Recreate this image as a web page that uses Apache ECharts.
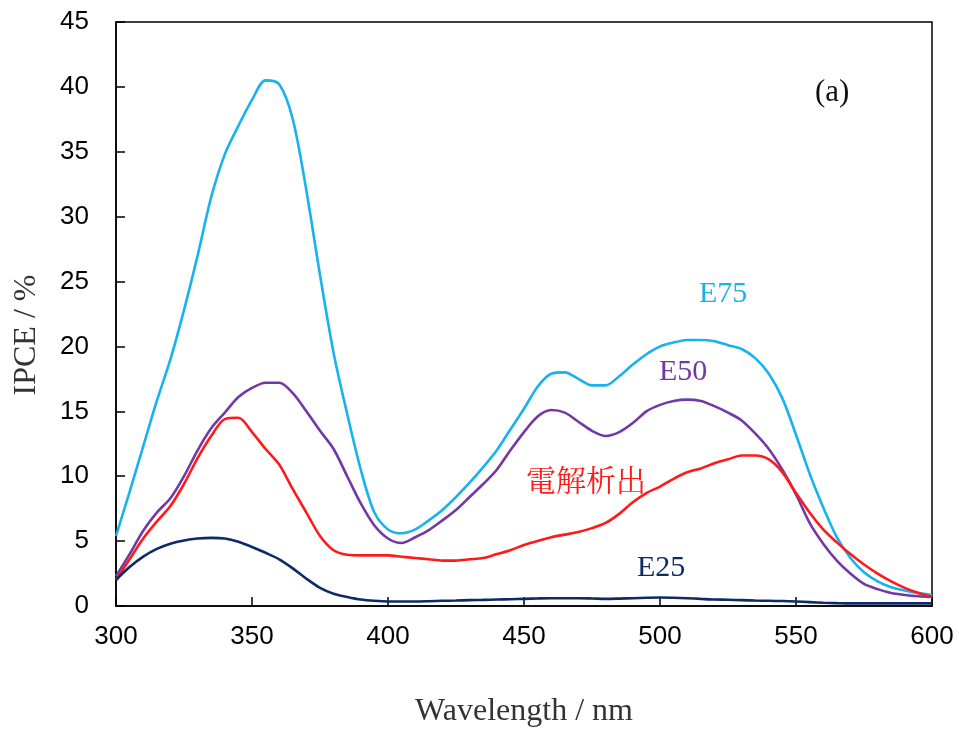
<!DOCTYPE html>
<html>
<head>
<meta charset="utf-8">
<script src="https://cdn.jsdelivr.net/npm/echarts@6/dist/echarts.min.js"></script>
<style>
  html, body { margin: 0; padding: 0; background: #fff; }
  #chart { width: 959px; height: 733px; }
</style>
</head>
<body>
<div id="chart"></div>
<script>
// IPCE spectra: wavelength (nm) against IPCE (%), sampled every 5 nm
const wavelength = [
  300, 305, 310, 315, 320, 325, 330, 335, 340, 345,
  350, 355, 360, 365, 370, 375, 380, 385, 390, 395,
  400, 405, 410, 415, 420, 425, 430, 435, 440, 445,
  450, 455, 460, 465, 470, 475, 480, 485, 490, 495,
  500, 505, 510, 515, 520, 525, 530, 535, 540, 545,
  550, 555, 560, 565, 570, 575, 580, 585, 590, 595,
  600
];

const ipceE75 = [
  5.4, 8.8, 12.3, 15.8, 19.0, 22.8, 27.0, 31.5, 34.8, 37.0,
  39.0, 40.5, 40.2, 37.5, 32.0, 25.5, 19.5, 14.8, 10.5, 7.2,
  5.9, 5.6, 5.9, 6.6, 7.4, 8.4, 9.5, 10.7, 12.0, 13.6,
  15.2, 16.9, 17.9, 18.0, 17.5, 17.0, 17.0, 17.7, 18.6, 19.4,
  20.0, 20.3, 20.5, 20.5, 20.4, 20.1, 19.8, 19.1, 17.9, 16.0,
  13.2, 10.2, 7.6, 5.3, 3.7, 2.6, 1.9, 1.45, 1.2, 1.0,
  0.85
];

const ipceE50 = [
  2.3, 4.0, 5.8, 7.2, 8.3, 10.0, 12.0, 13.7, 14.9, 16.1,
  16.8, 17.2, 17.2, 16.4, 15.0, 13.5, 12.1, 10.0, 7.9, 6.2,
  5.2, 4.85, 5.3, 5.85, 6.6, 7.4, 8.4, 9.4, 10.5, 12.0,
  13.4, 14.6, 15.1, 14.9, 14.2, 13.5, 13.1, 13.4, 14.1, 15.0,
  15.5, 15.8, 15.9, 15.8, 15.4, 14.9, 14.3, 13.3, 12.1, 10.5,
  8.6, 6.4, 4.8, 3.5, 2.5, 1.7, 1.3, 1.0, 0.85, 0.75,
  0.7
];

const ipceDeposited = [
  2.0, 3.6, 5.2, 6.5, 7.7, 9.4, 11.4, 13.1, 14.4, 14.5,
  13.4, 12.1, 10.9, 9.0, 7.2, 5.4, 4.3, 3.95, 3.9, 3.9,
  3.9, 3.8, 3.7, 3.6, 3.5, 3.5, 3.6, 3.7, 4.0, 4.3,
  4.7, 5.0, 5.3, 5.5, 5.7, 6.0, 6.4, 7.1, 8.0, 8.7,
  9.2, 9.8, 10.3, 10.6, 11.0, 11.3, 11.6, 11.6, 11.3, 10.3,
  8.7, 7.2, 5.9, 4.9, 4.0, 3.2, 2.5, 1.9, 1.4, 1.0,
  0.7
];

const ipceE25 = [
  2.0, 3.0, 3.8, 4.4, 4.8, 5.05, 5.2, 5.25, 5.2, 4.95,
  4.55, 4.1, 3.6, 2.9, 2.1, 1.4, 0.95, 0.7, 0.5, 0.4,
  0.35, 0.35, 0.35, 0.37, 0.4, 0.42, 0.45, 0.47, 0.5, 0.52,
  0.55, 0.58, 0.6, 0.6, 0.6, 0.58, 0.55, 0.57, 0.6, 0.63,
  0.65, 0.63, 0.6, 0.55, 0.5, 0.48, 0.45, 0.42, 0.4, 0.38,
  0.35, 0.3, 0.25, 0.22, 0.2, 0.2, 0.2, 0.2, 0.2, 0.2,
  0.2
];

const xTicks = [300, 350, 400, 450, 500, 550, 600];
const yTicks = [0, 5, 10, 15, 20, 25, 30, 35, 40, 45];

const pair = (xs, ys) => xs.map((x, i) => [x, ys[i]]);

const serifFont = '"Liberation Serif", "Times New Roman", serif';
const sansFont = '"Liberation Sans", Arial, sans-serif';
const cjkFont = '"Noto Serif CJK JP", "Noto Sans CJK JP", serif';

const colors = {
  e75: '#17b2ef',
  e50: '#7438a6',
  deposited: '#ff1a1a',
  e25: '#0e2a68'
};

function line(name, ys, color) {
  return {
    name: name,
    type: 'line',
    data: pair(wavelength, ys),
    smooth: 0.3,
    showSymbol: false,
    lineStyle: { color: color, width: 2.6 },
    itemStyle: { color: color },
    z: 3
  };
}

const chart = echarts.init(document.getElementById('chart'));

chart.setOption({
  animation: false,
  backgroundColor: '#ffffff',
  grid: {
    left: 116, right: 27, top: 22, bottom: 127,
    show: true, borderColor: '#000', borderWidth: 1.5,
    backgroundColor: 'transparent'
  },
  xAxis: {
    type: 'value',
    min: xTicks[0], max: xTicks[xTicks.length - 1], interval: 50,
    name: 'Wavelength / nm',
    nameLocation: 'middle',
    nameGap: 90,
    nameTextStyle: { fontFamily: serifFont, fontSize: 32, color: '#333' },
    axisLine: { show: true, lineStyle: { color: '#000', width: 1.5 } },
    axisTick: { show: true, inside: true, length: 9, lineStyle: { color: '#000', width: 1.5 } },
    axisLabel: { fontFamily: sansFont, fontSize: 26, color: '#000', margin: 18 },
    splitLine: { show: false }
  },
  yAxis: {
    type: 'value',
    min: yTicks[0], max: yTicks[yTicks.length - 1], interval: 5,
    axisLine: { show: true, lineStyle: { color: '#000', width: 1.5 } },
    axisTick: { show: true, inside: true, length: 9, lineStyle: { color: '#000', width: 1.5 } },
    axisLabel: { fontFamily: sansFont, fontSize: 26, color: '#000', margin: 27 },
    splitLine: { show: false }
  },
  series: [
    line('E75', ipceE75, colors.e75),
    line('E50', ipceE50, colors.e50),
    line('電解析出', ipceDeposited, colors.deposited),
    line('E25', ipceE25, colors.e25)
  ],
  graphic: [
    // y-axis title, rotated
    { type: 'text', x: 27, y: 335, rotation: Math.PI / 2,
      style: { text: 'IPCE / %', fontFamily: serifFont, fontSize: 32, fill: '#333', align: 'center', verticalAlign: 'middle' } },
    // series labels
    { type: 'text', left: 699, top: 279, style: { text: 'E75', fontFamily: serifFont, fontSize: 30, fill: colors.e75 } },
    { type: 'text', left: 659, top: 357, style: { text: 'E50', fontFamily: serifFont, fontSize: 30, fill: colors.e50 } },
    { type: 'text', left: 526, top: 465, style: { text: '電解析出', fontFamily: cjkFont, fontSize: 30, fill: colors.deposited } },
    { type: 'text', left: 637, top: 553, style: { text: 'E25', fontFamily: serifFont, fontSize: 30, fill: colors.e25 } },
    // panel tag
    { type: 'text', left: 815, top: 77, style: { text: '(a)', fontFamily: serifFont, fontSize: 31, fill: '#111' } }
  ]
});
</script>
</body>
</html>
